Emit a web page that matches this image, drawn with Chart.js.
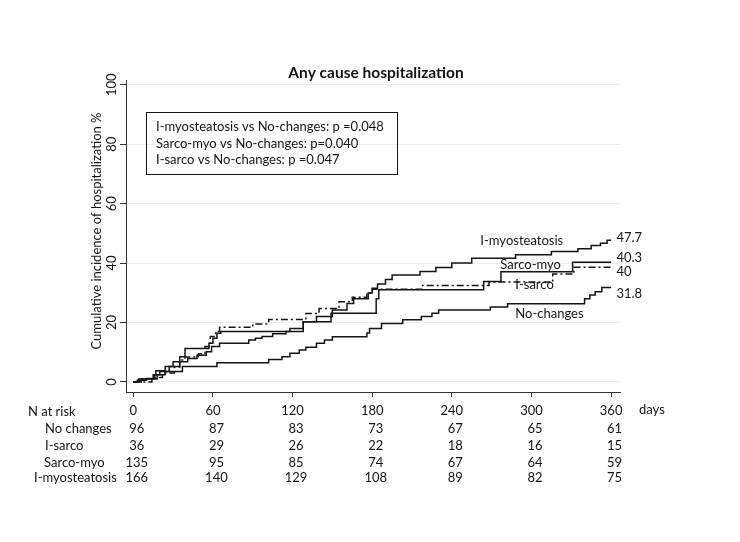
<!DOCTYPE html>
<html>
<head>
<meta charset="utf-8">
<title>Any cause hospitalization</title>
<script src="https://cdn.jsdelivr.net/npm/chart.js@4.4.0/dist/chart.umd.min.js"></script>
<style>
  html, body { margin: 0; padding: 0; background: #fff; }
  #wrap { width: 740px; height: 542px; }
</style>
</head>
<body>
<div id="wrap"><canvas id="km" width="740" height="542"></canvas></div>
<script>
// Kaplan-Meier style cumulative incidence
const xTicks = [0, 60, 120, 180, 240, 300, 360];
const yTicks = [0, 20, 40, 60, 80, 100];

const noChangesDays = [0, 6, 18, 24, 37, 63, 102, 112, 118, 125, 130, 138, 144, 150, 176, 178, 187, 203, 217, 225, 230, 269, 282, 340, 344, 348, 353, 360];
const noChangesPct  = [0, 1.0, 2.4, 3.5, 5.2, 6.5, 7.6, 8.5, 9.7, 10.8, 11.7, 13.0, 14.1, 15.2, 16.5, 18.0, 19.7, 20.9, 22.0, 23.1, 24.2, 25.2, 26.3, 28.0, 29.3, 30.4, 31.8, 31.8];

const iSarcoDays = [0, 14, 22, 31, 35, 39, 49, 54, 58, 62, 65, 90, 102, 130, 140, 155, 165, 176, 180, 218, 268, 316, 332, 360];
const iSarcoPct  = [0, 1.5, 3.0, 5.0, 7.4, 8.4, 9.5, 11.9, 15.3, 17.0, 18.4, 19.5, 21.0, 23.0, 24.7, 27.0, 28.5, 30.0, 31.2, 32.5, 33.6, 36.3, 38.6, 38.6];

const sarcoMyoDays = [0, 4, 15, 17, 24, 30, 35, 39, 57, 60, 63, 66, 128, 149, 183, 185, 264, 277, 331, 360];
const sarcoMyoPct  = [0, 1.0, 2.4, 3.8, 5.2, 6.8, 8.5, 11.3, 13.0, 14.7, 16.4, 17.0, 20.3, 23.1, 28.0, 31.0, 33.8, 37.1, 40.3, 40.3];

const iMyoDays = [0, 3, 10, 16, 20, 27, 35, 41, 48, 55, 59, 65, 87, 92, 97, 105, 115, 118, 128, 138, 150, 161, 166, 177, 180, 184, 190, 195, 216, 228, 240, 255, 288, 315, 335, 345, 352, 357, 360];
const iMyoPct  = [0, 0.6, 1.2, 2.4, 3.5, 5.2, 6.8, 7.9, 9.0, 10.2, 11.9, 13.0, 14.1, 14.7, 15.3, 16.2, 17.0, 18.0, 20.3, 22.0, 24.2, 26.4, 28.0, 29.9, 31.5, 33.0, 34.5, 36.0, 37.2, 38.5, 40.0, 41.6, 42.8, 43.9, 44.8, 45.9, 46.7, 47.7, 47.7];

// numbers at risk
const riskGroups = ['No changes', 'I-sarco', 'Sarco-myo', 'I-myosteatosis'];
const riskNoChanges = [96, 87, 83, 73, 67, 65, 61];
const riskISarco    = [36, 29, 26, 22, 18, 16, 15];
const riskSarcoMyo  = [135, 95, 85, 74, 67, 64, 59];
const riskIMyo      = [166, 140, 129, 108, 89, 82, 75];

const titleText = 'Any cause hospitalization';
const yTitle = 'Cumulative incidence of hospitalization %';
const pLines = [
  'I-myosteatosis vs No-changes: p =0.048',
  'Sarco-myo vs No-changes: p=0.040',
  'I-sarco vs No-changes: p =0.047'
];
const curveNames = ['I-myosteatosis', 'Sarco-myo', 'I-sarco', 'No-changes'];
const endValues = ['47.7', '40.3', '40', '31.8'];

const FONT = 'Lato, "Open Sans", sans-serif';
const INK = '#141414';

function pts(days, vals) {
  return days.map((d, i) => ({ x: d, y: vals[i] }));
}

function stepSet(label, days, vals, dash) {
  return {
    label,
    data: pts(days, vals),
    stepped: true,
    borderColor: INK,
    borderWidth: 1.5,
    borderDash: dash || [],
    pointRadius: 0,
    fill: false,
  };
}

// label anchors, in data units (day, %)
const nameAnchors = [[261.5, 47.4], [276.5, 39.3], [287.8, 32.6], [287.8, 23.1]];
const endAnchors = [[364, 48.5], [364, 41.9], [364, 37.0], [364, 29.8]];

const overlay = {
  id: 'overlay',
  afterDraw(chart) {
    const { ctx, chartArea } = chart;
    const x = chart.scales.x, y = chart.scales.y;
    ctx.save();
    ctx.fillStyle = INK;
    ctx.strokeStyle = INK;

    // title
    ctx.font = `bold 15.5px ${FONT}`;
    ctx.textAlign = 'center';
    ctx.textBaseline = 'middle';
    ctx.fillText(titleText, 376, 73);

    // y tick labels, rotated like the original
    ctx.font = `13px ${FONT}`;
    yTicks.forEach(v => {
      ctx.save();
      ctx.translate(112, y.getPixelForValue(v));
      ctx.rotate(-Math.PI / 2);
      ctx.fillText(String(v), 0, 0);
      ctx.restore();
    });

    // y title
    ctx.save();
    ctx.translate(97, (chartArea.top + chartArea.bottom) / 2 - 5);
    ctx.rotate(-Math.PI / 2);
    ctx.fillText(yTitle, 0, 0);
    ctx.restore();

    // p-value box
    ctx.lineWidth = 1;
    ctx.strokeRect(146.5, 112.5, 251, 62);
    ctx.textAlign = 'left';
    pLines.forEach((t, i) => ctx.fillText(t, 156, 127 + i * 16.6));

    // curve names and final values
    curveNames.forEach((t, i) => {
      const [d, v] = nameAnchors[i];
      ctx.fillText(t, x.getPixelForValue(d), y.getPixelForValue(v));
    });
    endValues.forEach((t, i) => {
      const [d, v] = endAnchors[i];
      ctx.fillText(t, x.getPixelForValue(d), y.getPixelForValue(v));
    });

    // x tick labels + risk table
    const rowY = [412, 429, 446, 462.5, 478];
    ctx.fillText('N at risk', 28, rowY[0]);
    ctx.textAlign = 'center';
    xTicks.forEach(t => ctx.fillText(String(t), x.getPixelForValue(t), rowY[0] - 1.5));
    ctx.textAlign = 'left';
    ctx.fillText('days', 639, rowY[0] - 2);

    const rows = [riskNoChanges, riskISarco, riskSarcoMyo, riskIMyo];
    const labelX = [45, 45, 44, 34];
    rows.forEach((r, i) => {
      ctx.textAlign = 'left';
      ctx.fillText(riskGroups[i], labelX[i], rowY[i + 1]);
      ctx.textAlign = 'center';
      r.forEach((n, j) => ctx.fillText(String(n), x.getPixelForValue(xTicks[j]) + 3.5, rowY[i + 1]));
    });
    ctx.restore();
  }
};

new Chart(document.getElementById('km'), {
  type: 'line',
  data: {
    datasets: [
      stepSet('No-changes', noChangesDays, noChangesPct),
      stepSet('I-sarco', iSarcoDays, iSarcoPct, [7, 3, 2, 3]),
      stepSet('Sarco-myo', sarcoMyoDays, sarcoMyoPct),
      stepSet('I-myosteatosis', iMyoDays, iMyoPct),
    ],
  },
  options: {
    responsive: false,
    animation: false,
    layout: { padding: { top: 80, right: 120, left: 0, bottom: 0 } },
    plugins: { legend: { display: false }, tooltip: { enabled: false }, title: { display: false } },
    scales: {
      x: {
        type: 'linear',
        min: -5.5,
        max: 366.7,
        afterBuildTicks: s => { s.ticks = xTicks.map(v => ({ value: v })); },
        afterFit: s => { s.height = 150; },
        ticks: { display: false },
        grid: { drawOnChartArea: false, drawTicks: true, tickLength: 5, tickColor: '#333', color: '#333' },
        border: { display: true, color: '#333', width: 1 },
      },
      y: {
        type: 'linear',
        min: -3.37,
        max: 101.6,
        afterBuildTicks: s => { s.ticks = yTicks.map(v => ({ value: v })); },
        afterFit: s => { s.width = 126; },
        ticks: { display: false },
        grid: { drawOnChartArea: true, drawTicks: true, tickLength: 6, color: '#e4edf0', tickColor: '#333', lineWidth: 1 },
        border: { display: true, color: '#333', width: 1 },
      },
    },
  },
  plugins: [overlay],
});
</script>
</body>
</html>
